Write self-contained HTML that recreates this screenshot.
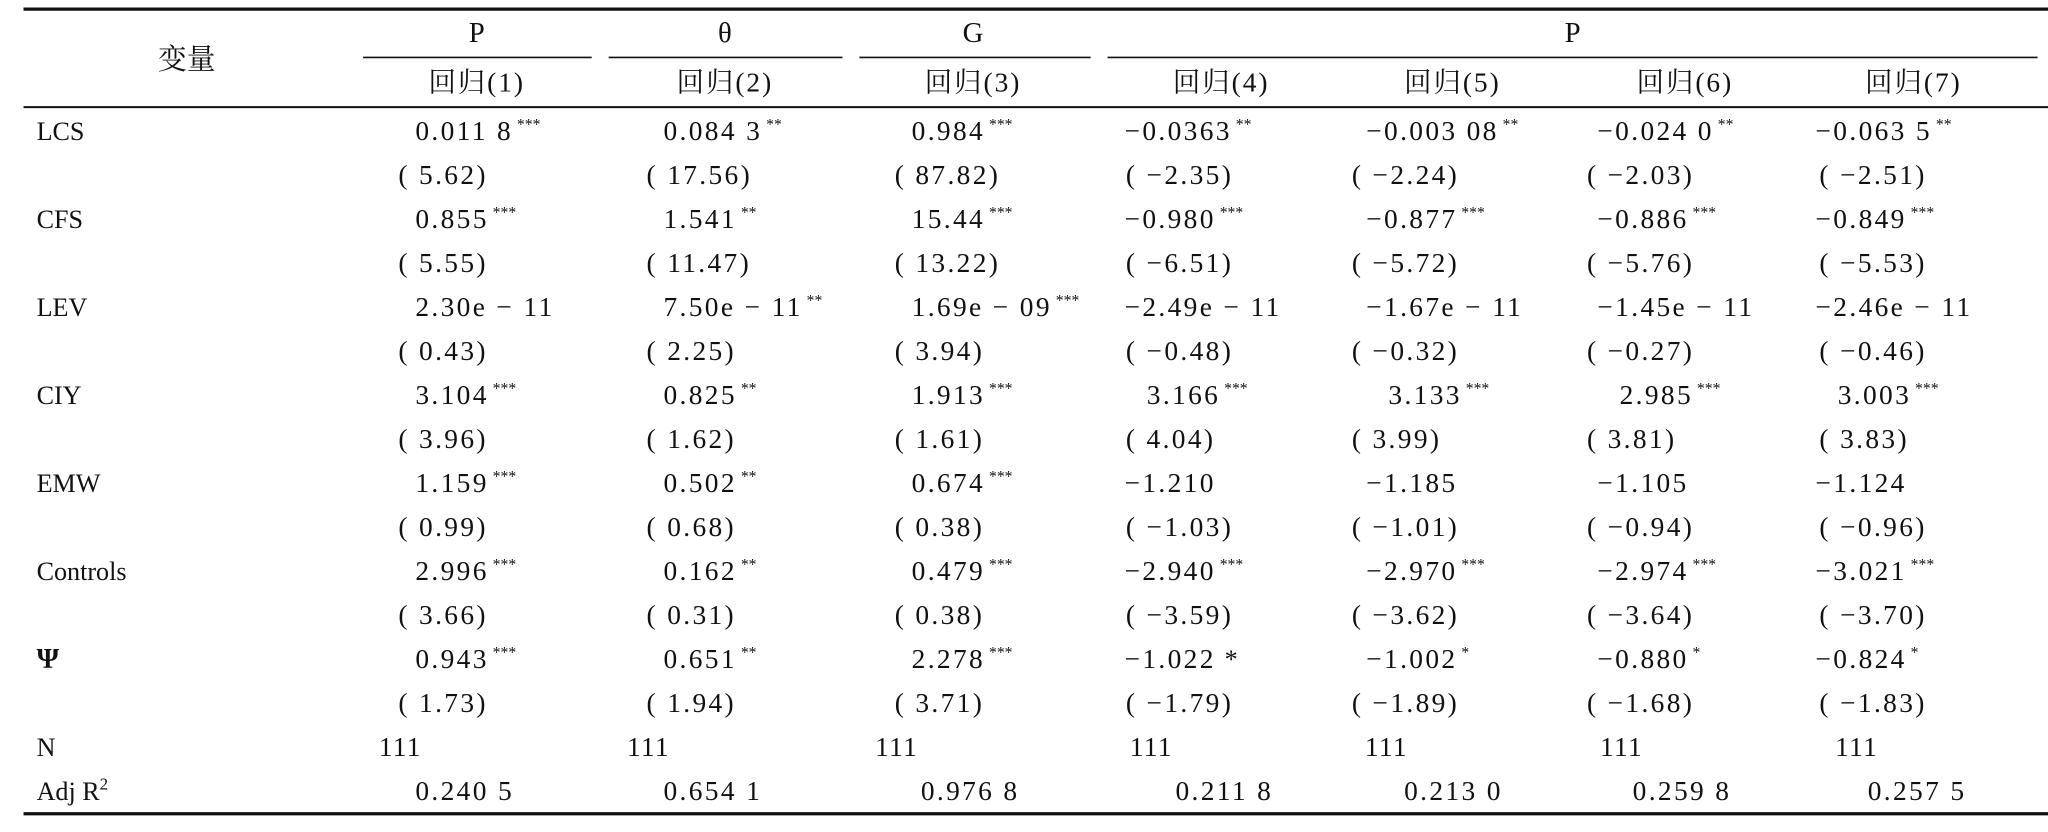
<!DOCTYPE html>
<html><head><meta charset="utf-8"><style>
html,body{margin:0;padding:0;background:#fff;}
svg{display:block;}
text{font-family:"Liberation Serif","Noto Serif CJK SC",serif;fill:#111;}
</style></head><body>
<svg id="tbl" width="2048" height="832" viewBox="0 0 1568 637" preserveAspectRatio="none" xmlns="http://www.w3.org/2000/svg">
<line x1="18" y1="7" x2="1568" y2="7" stroke="#111" stroke-width="2.5"/>
<line x1="18" y1="82" x2="1568" y2="82" stroke="#111" stroke-width="1.5"/>
<line x1="18" y1="623" x2="1568" y2="623" stroke="#111" stroke-width="2.5"/>
<g font-size="22" text-anchor="middle">
<text x="143" y="53" style="font-family:'Noto Serif CJK SC','Noto Sans CJK SC',serif">变量</text>
<text x="365" y="32">P</text>
<text x="555" y="32">θ</text>
<text x="745" y="32">G</text>
<text x="1204" y="32">P</text>
</g>
<line x1="278" y1="44" x2="453" y2="44" stroke="#111" stroke-width="1.2"/>
<line x1="466" y1="44" x2="645" y2="44" stroke="#111" stroke-width="1.2"/>
<line x1="658" y1="44" x2="835" y2="44" stroke="#111" stroke-width="1.2"/>
<line x1="848" y1="44" x2="1560" y2="44" stroke="#111" stroke-width="1.2"/>
<g id="body"></g>
</svg>
<script>
const colNames=["回归(1)","回归(2)","回归(3)","回归(4)","回归(5)","回归(6)","回归(7)"];
const rowLabels=["LCS","CFS","LEV","CIY","EMW","Controls","Ψ"];
const coefs=[
["0.011 8","0.084 3","0.984","−0.0363","−0.003 08","−0.024 0","−0.063 5"],
["0.855","1.541","15.44","−0.980","−0.877","−0.886","−0.849"],
["2.30e − 11","7.50e − 11","1.69e − 09","−2.49e − 11","−1.67e − 11","−1.45e − 11","−2.46e − 11"],
["3.104","0.825","1.913","3.166","3.133","2.985","3.003"],
["1.159","0.502","0.674","−1.210","−1.185","−1.105","−1.124"],
["2.996","0.162","0.479","−2.940","−2.970","−2.974","−3.021"],
["0.943","0.651","2.278","−1.022","−1.002","−0.880","−0.824"]];
const stars=[
["***","**","***","**","**","**","**"],
["***","**","***","***","***","***","***"],
["","**","***","","","",""],
["***","**","***","***","***","***","***"],
["***","**","***","","","",""],
["***","**","***","***","***","***","***"],
["***","**","***","big*","*","*","*"]];
const tstats=[
["5.62","17.56","87.82","−2.35","−2.24","−2.03","−2.51"],
["5.55","11.47","13.22","−6.51","−5.72","−5.76","−5.53"],
["0.43","2.25","3.94","−0.48","−0.32","−0.27","−0.46"],
["3.96","1.62","1.61","4.04","3.99","3.81","3.83"],
["0.99","0.68","0.38","−1.03","−1.01","−0.94","−0.96"],
["3.66","0.31","0.38","−3.59","−3.62","−3.64","−3.70"],
["1.73","1.94","3.71","−1.79","−1.89","−1.68","−1.83"]];
const nVals=["111","111","111","111","111","111","111"];
const adjR2=["0.240 5","0.654 1","0.976 8","0.211 8","0.213 0","0.259 8","0.257 5"];

const NS="http://www.w3.org/2000/svg";
const body=document.getElementById('body');
const colCenter=[365,555,745,935,1112,1290,1465];
const valX=[318,508,698,878,1063,1240,1407];
const parX=[305,495,685,862,1035,1215,1393];
const nX=[290,480,670,865,1045,1225,1405];
const adjX=[318,508,705,900,1075,1250,1430];
function rowY(i){return 100+i*33.7;}
function mk(txt,x,y,anchor,size,ls){
  const t=document.createElementNS(NS,'text');
  t.setAttribute('x',x);t.setAttribute('y',y);
  t.setAttribute('font-size',size||21);
  if(ls)t.setAttribute('letter-spacing',ls);
  if(anchor)t.setAttribute('text-anchor',anchor);
  t.textContent=txt;body.appendChild(t);return t;
}
colNames.forEach((c,j)=>{
  const t=mk(c,colCenter[j],70,'middle',21,1.5);
  
  
});
rowLabels.forEach((lab,i)=>{
  const y=rowY(2*i)+7;
  const l=mk(lab,28,y,null,lab==="Ψ"?22:20);
  if(lab==="Ψ")l.setAttribute('font-weight','bold');
  
  
  coefs[i].forEach((v,j)=>{
    const neg=v.startsWith('−');
    const t=mk(v,valX[j]-(neg?17:0),y,null,21,1.8);
    
    
    const s=stars[i][j];
    if(s){
      const ts=document.createElementNS(NS,'tspan');
      if(s==='big*'){ts.textContent=' *';ts.setAttribute('font-size','20');}
      else{ts.textContent=s;ts.setAttribute('font-size','12');ts.setAttribute('dy','-8');ts.setAttribute('letter-spacing','0');ts.setAttribute('dx','3');}
      t.appendChild(ts);
    }
  });
  const y2=rowY(2*i+1)+7;
  tstats[i].forEach((v,j)=>{
    const t=mk('( '+v+')',parX[j],y2,null,21,1.8);
    
    
  });
});
const yN=rowY(14)+7, yA=rowY(15)+7;
const nl=mk('N',28,yN,null,20);


const al=mk('Adj R',28,yA,null,20);


const sup=document.createElementNS(NS,'tspan');sup.textContent='2';sup.setAttribute('font-size','13');sup.setAttribute('dy','-8');al.appendChild(sup);
nVals.forEach((v,j)=>{
  const t=mk(v,nX[j],yN,null,21,1);
  
  
});
adjR2.forEach((v,j)=>{
  const t=mk(v,adjX[j],yA,null,21,1.8);
  
  
});
</script>
</body></html>
